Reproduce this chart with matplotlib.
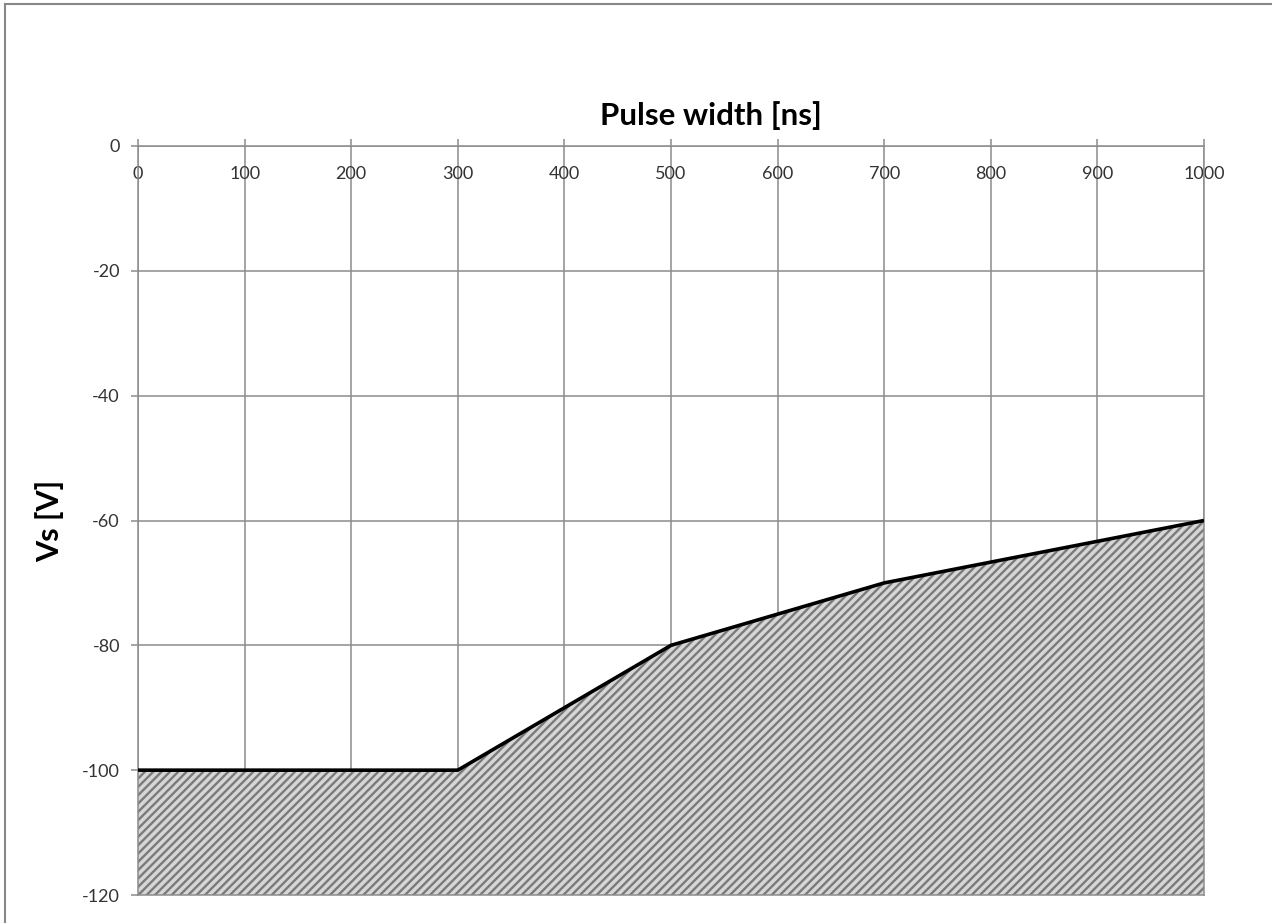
import matplotlib
matplotlib.use("Agg")
import matplotlib.pyplot as plt
from matplotlib.lines import Line2D

# Data
pulse_width = [0, 300, 500, 700, 1000]
vs = [-100, -100, -80, -70, -60]
x_ticks = [0, 100, 200, 300, 400, 500, 600, 700, 800, 900, 1000]
y_ticks = [0, -20, -40, -60, -80, -100, -120]

plt.rcParams['font.family'] = ['Lato', 'DejaVu Sans']
plt.rcParams['hatch.linewidth'] = 1.7
plt.rcParams['hatch.color'] = '#7a7a7a'

fig = plt.figure(figsize=(12.72, 9.23), dpi=100)
ax = fig.add_axes([138/1272, 1 - 895/923, (1204 - 138)/1272, (895 - 146)/923])

grid_c = '#8c8c8c'
ax.fill_between(pulse_width, vs, -120, facecolor='#d6d6d6', edgecolor='#7a7a7a',
                hatch='////', linewidth=0, zorder=2)
ax.plot(pulse_width, vs, color='black', linewidth=2.6, zorder=3, solid_capstyle='butt')

ax.set_xlim(0, 1000)
ax.set_ylim(-120, 0)
ax.set_xticks(x_ticks)
ax.set_yticks(y_ticks)
ax.set_xticklabels([str(v) for v in x_ticks])
ax.set_yticklabels([str(v) for v in y_ticks])
ax.grid(True, color=grid_c, linewidth=1.1, zorder=1)
ax.set_axisbelow(True)

ax.xaxis.tick_top()
ax.tick_params(axis='x', which='major', length=5, color=grid_c, width=1.1,
               labelsize=13, pad=-31, labelcolor='#333333', direction='out')
ax.tick_params(axis='y', which='major', length=5, color=grid_c, width=1.1,
               labelsize=13, pad=8, labelcolor='#333333')
for lbl in ax.get_xticklabels():
    lbl.set_verticalalignment('bottom')

for s in ax.spines.values():
    s.set_color(grid_c)
    s.set_linewidth(1.1)

ax.set_ylabel('Vs [V]', fontsize=22, fontweight='bold')
ax.yaxis.set_label_coords((64 - 138) / (1204 - 138), 0.5)
fig.text(711/1272, 1 - 116/923, 'Pulse width [ns]', fontsize=22.5, fontweight='bold',
         ha='center', va='center')

# Figure border (top and left visible)
fig.add_artist(Line2D([5/1272, 1.0], [1 - 4/923, 1 - 4/923], transform=fig.transFigure,
                      color='#888888', linewidth=1.5))
fig.add_artist(Line2D([5/1272, 5/1272], [0.0, 1 - 4/923], transform=fig.transFigure,
                      color='#888888', linewidth=1.5))

fig.savefig('out.png', dpi=100)
